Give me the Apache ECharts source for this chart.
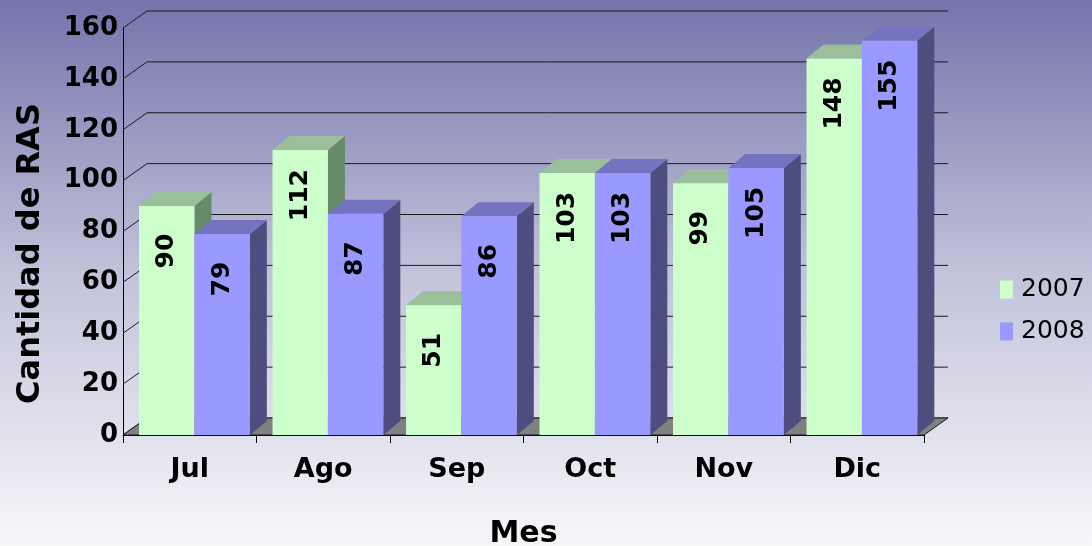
<!DOCTYPE html>
<html>
<head>
<meta charset="utf-8">
<script src="https://cdn.jsdelivr.net/npm/echarts@6/dist/echarts.min.js"></script>
<style>html,body{margin:0;padding:0;} #main{width:1092px;height:546px;}</style>
</head>
<body>
<div id="main"></div>
<script>
// Cantidad de RAS por mes, 2007 vs 2008
var months = ['Jul', 'Ago', 'Sep', 'Oct', 'Nov', 'Dic'];
var ras2007 = [90, 112, 51, 103, 99, 148];
var ras2008 = [79, 87, 86, 103, 105, 155];
var yTicks = [0, 20, 40, 60, 80, 100, 120, 140, 160];

var WDX = 24, WDY = -17;   // profundidad pared
var BDX = 17, BDY = -14;   // profundidad barras
var FONT = 'DejaVu Sans';

var dom = document.getElementById('main');
var myChart = echarts.init(dom);

function wallRender(params, api) {
    var cs = params.coordSys;
    var y = api.coord([0, api.value(1)])[1];
    var xl = cs.x, xr = cs.x + cs.width;
    return {
        type: 'polyline',
        shape: { points: [[xl, y], [xl + WDX, y + WDY], [xr + WDX, y + WDY]] },
        style: { stroke: '#1a1a1a', lineWidth: 1, fill: null }
    };
}

function floorRender(params, api) {
    var cs = params.coordSys;
    var y = api.coord([0, 0])[1];
    var xl = cs.x, xr = cs.x + cs.width;
    return {
        type: 'polygon',
        shape: { points: [[xl, y], [xr, y], [xr + WDX, y + WDY], [xl + WDX, y + WDY]] },
        style: { fill: '#808080', stroke: '#1a1a1a', lineWidth: 1 }
    };
}

function barRender(k, face, top, side) {
    return function (params, api) {
        var idx = api.value(0), val = api.value(1);
        var base = api.coord([idx, 0]);
        var peak = api.coord([idx, val]);
        var band = api.size([1, 0])[0];
        var w = band * 0.415;
        var x0 = base[0] - band * 0.38 + k * w;
        var x1 = x0 + w;
        var y0 = base[1], y1 = peak[1];
        return {
            type: 'group',
            children: [
                { type: 'polygon', shape: { points: [[x1, y1], [x1 + BDX, y1 + BDY], [x1 + BDX, y0 + BDY], [x1, y0]] }, style: { fill: side } },
                { type: 'polygon', shape: { points: [[x0, y1], [x0 + BDX, y1 + BDY], [x1 + BDX, y1 + BDY], [x1, y1]] }, style: { fill: top } },
                { type: 'rect', shape: { x: x0, y: y1, width: w, height: y0 - y1 }, style: { fill: face } },
                {
                    type: 'text', x: (x0 + x1) / 2, y: y1 + 45, rotation: Math.PI / 2,
                    style: { text: String(val), fill: '#000', font: 'bold 25px "' + FONT + '"', align: 'center', verticalAlign: 'middle' }
                }
            ]
        };
    };
}

option = {
    backgroundColor: {
        type: 'linear', x: 0, y: 0, x2: 0, y2: 1,
        colorStops: [
            { offset: 0, color: '#7474ac' },
            { offset: 0.5, color: '#c2c2da' },
            { offset: 1, color: '#f7f7fa' }
        ]
    },
    animation: false,
    grid: { left: 123, right: 168, top: 28, bottom: 111, outerBoundsMode: 'none' },
    legend: {
        orient: 'vertical', left: 1000, top: 277,
        itemWidth: 13, itemHeight: 18, itemGap: 17, padding: 0,
        icon: 'rect',
        data: ['2007', '2008'],
        textStyle: { fontFamily: FONT, fontSize: 25, color: '#000', padding: [0, 0, 0, 3] }
    },
    xAxis: {
        type: 'category',
        data: months,
        name: 'Mes', nameLocation: 'middle', nameGap: 84,
        nameTextStyle: { fontFamily: FONT, fontWeight: 'bold', fontSize: 30, color: '#000' },
        axisLine: { lineStyle: { color: '#000', width: 1 } },
        axisTick: { show: true, length: 8, lineStyle: { color: '#000' } },
        axisLabel: { fontFamily: FONT, fontWeight: 'bold', fontSize: 27, color: '#000', margin: 21 }
    },
    yAxis: {
        type: 'value', min: 0, max: 160, interval: 20,
        name: 'Cantidad de RAS', nameLocation: 'middle', nameGap: 76,
        nameTextStyle: { fontFamily: FONT, fontWeight: 'bold', fontSize: 32, color: '#000', padding: [0, 44, 0, 0] },
        axisLine: { show: true, lineStyle: { color: '#000', width: 1 } },
        axisTick: { show: false },
        splitLine: { show: false },
        axisLabel: { fontFamily: FONT, fontWeight: 'bold', fontSize: 26, color: '#000', margin: 5 }
    },
    series: [
        {
            name: 'pared', type: 'custom', z: 1, silent: true,
            data: yTicks.map(function (v) { return [0, v]; }),
            encode: { x: 0, y: 1 },
            renderItem: wallRender
        },
        {
            name: 'piso', type: 'custom', z: 1, silent: true,
            data: [[0, 0]],
            encode: { x: 0, y: 1 },
            renderItem: floorRender
        },
        {
            name: '2007', type: 'custom', z: 3,
            itemStyle: { color: '#ccffcc' },
            data: months.map(function (m, i) { return [i, ras2007[i]]; }),
            encode: { x: 0, y: 1 },
            renderItem: barRender(0, '#ccffcc', '#9abf9a', '#678b67')
        },
        {
            name: '2008', type: 'custom', z: 4,
            itemStyle: { color: '#9999ff' },
            data: months.map(function (m, i) { return [i, ras2008[i]]; }),
            encode: { x: 0, y: 1 },
            renderItem: barRender(1, '#9999ff', '#7373bf', '#4d4d7f')
        }
    ]
};

if (option && typeof option === 'object') {
    myChart.setOption(option, true);
}
</script>
</body>
</html>
